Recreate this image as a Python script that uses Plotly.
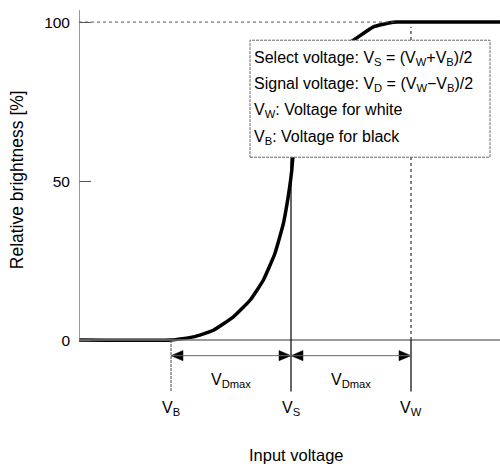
import plotly.graph_objects as go

# ---- data ----
v_names = ["V<sub>B</sub>", "V<sub>S</sub>", "V<sub>W</sub>"]
v_pos = [2.3, 5.3, 8.3]          # input voltage positions (arbitrary units)
curve_x = [0, 2.3, 2.86, 3.36, 3.86, 4.28, 4.61, 4.9, 5.11, 5.23, 5.29, 5.32,
           5.34, 5.42, 5.6, 5.9, 6.3, 6.86, 7.36, 7.78, 7.95, 10.525]
curve_y = [0, 0, 1.0, 3.1, 7.3, 12.6, 18.9, 27.3, 36.7, 45.1, 50.3, 53.5,
           56.6, 66, 76, 84, 90, 94.3, 98.5, 99.8, 100, 100]
y_ticks = [0, 50, 100]
y_tick_text = ["0", "50", "100"]
box_lines = [
    "Select voltage: V<sub>S</sub> = (V<sub>W</sub>+V<sub>B</sub>)/2",
    "Signal voltage: V<sub>D</sub> = (V<sub>W</sub>\u2212V<sub>B</sub>)/2",
    "V<sub>W</sub>: Voltage for white",
    "V<sub>B</sub>: Voltage for black",
]
dmax_label = "V<sub>Dmax</sub>"
x_title = "Input voltage"
y_title = "Relative brightness [%]"

# ---- layout constants ----
X_MAX = 10.525
Y_MIN, Y_MAX = -39.6, 103.8
FONT = "Liberation Sans, Arial, sans-serif"
arrow_y = -4.9
tick_bottom = -16.2
head_len = 0.3
head_half = 1.6

vb, vs, vw = v_pos

fig = go.Figure()

shapes = []
# axes lines
shapes.append(dict(type="line", x0=0, x1=X_MAX, y0=0, y1=0, line=dict(color="#777", width=1.5)))
shapes.append(dict(type="line", x0=0, x1=0, y0=0, y1=Y_MAX, line=dict(color="#777", width=1.5)))
# dotted line at 100
shapes.append(dict(type="line", x0=0, x1=7.95, y0=100, y1=100, line=dict(color="#555", width=1, dash="dot")))
# V_B dashed marker below axis
shapes.append(dict(type="line", x0=vb, x1=vb, y0=0, y1=tick_bottom, line=dict(color="#444", width=1, dash="3px,1px")))
# V_S solid line
shapes.append(dict(type="line", x0=vs, x1=vs, y0=tick_bottom, y1=60, line=dict(color="black", width=1.2)))
# V_W dotted above, solid below axis
shapes.append(dict(type="line", x0=vw, x1=vw, y0=0, y1=98.5, line=dict(color="#333", width=1.2, dash="dot")))
shapes.append(dict(type="line", x0=vw, x1=vw, y0=0, y1=tick_bottom, line=dict(color="black", width=1.2)))
# dimension arrows lines
shapes.append(dict(type="line", x0=vb, x1=vs, y0=arrow_y, y1=arrow_y, line=dict(color="#666", width=1)))
shapes.append(dict(type="line", x0=vs, x1=vw, y0=arrow_y, y1=arrow_y, line=dict(color="#666", width=1)))

# arrowheads as filled triangles
def head(tip, direction):
    base = tip - direction * head_len
    return [tip, base, base, tip], [arrow_y, arrow_y + head_half, arrow_y - head_half, arrow_y]

for tip, d in [(vb, -1), (vs, 1), (vs, -1), (vw, 1)]:
    hx, hy = head(tip, d)
    fig.add_trace(go.Scatter(x=hx, y=hy, mode="lines", fill="toself", fillcolor="black",
                             line=dict(color="black", width=0.5), hoverinfo="skip", showlegend=False))

# curve
fig.add_trace(go.Scatter(x=curve_x, y=curve_y, mode="lines",
                         line=dict(color="black", width=3.5, shape="spline", smoothing=0.4),
                         hoverinfo="skip", showlegend=False))

# legend box (covers curve)
shapes.append(dict(type="rect", x0=4.275, x1=10.275, y0=57.5, y1=94.3, layer="above",
                   fillcolor="white", line=dict(color="#666", width=1, dash="3px,1px")))

annotations = []
box_y = [88.7, 80.5, 72.3, 63.8]
for txt, yy in zip(box_lines, box_y):
    annotations.append(dict(x=4.33, y=yy, xref="x", yref="y", text=txt, showarrow=False,
                            xanchor="left", yanchor="middle", font=dict(family=FONT, size=16, color="black")))

for name, xv in zip(v_names, v_pos):
    annotations.append(dict(x=xv, y=-21.4, xref="x", yref="y", text=name, showarrow=False,
                            xanchor="center", yanchor="middle", font=dict(family=FONT, size=16, color="black")))
for a, b in [(vb, vs), (vs, vw)]:
    annotations.append(dict(x=(a + b) / 2, y=-12.8, xref="x", yref="y", text=dmax_label, showarrow=False,
                            xanchor="center", yanchor="middle", font=dict(family=FONT, size=16, color="black")))

annotations.append(dict(x=5.43, y=-36.2, xref="x", yref="y", text=x_title, showarrow=False,
                        xanchor="center", yanchor="middle", font=dict(family=FONT, size=16.5, color="black")))
annotations.append(dict(x=-0.147, y=50.3, xref="paper", yref="y", text=y_title, showarrow=False,
                        textangle=-90, xanchor="center", yanchor="middle",
                        font=dict(family=FONT, size=17.5, color="black")))

fig.update_layout(
    width=500, height=466,
    margin=dict(l=79, r=0, t=10, b=0),
    plot_bgcolor="white", paper_bgcolor="white",
    shapes=shapes, annotations=annotations,
    xaxis=dict(range=[0, X_MAX], showgrid=False, zeroline=False, showline=False,
               showticklabels=False, ticks=""),
    yaxis=dict(range=[Y_MIN, Y_MAX], showgrid=False, zeroline=False, showline=False,
               tickvals=y_ticks, ticktext=y_tick_text, ticks="inside", ticklen=12,
               tickcolor="#555", tickwidth=1, ticklabelstandoff=8,
               tickfont=dict(family=FONT, size=15.5, color="black")),
)

fig.write_html("out.html")
